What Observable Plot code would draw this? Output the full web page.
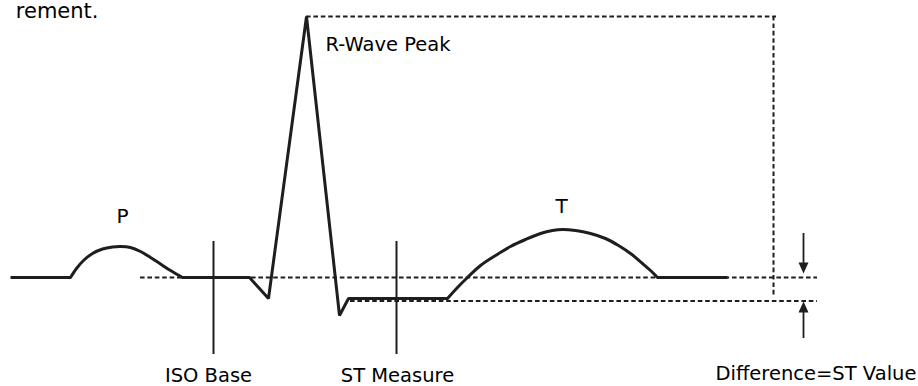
<!DOCTYPE html>
<html>
<head>
<meta charset="utf-8">
<script src="https://cdn.jsdelivr.net/npm/d3@7"></script>
<script src="https://cdn.jsdelivr.net/npm/@observablehq/plot@0.6"></script>
<style>
  html, body { margin: 0; padding: 0; background: #ffffff; }
  #chart svg { display: block; }
</style>
</head>
<body>
<div id="chart"></div>
<script>
// ---- Data (x = time units, y = amplitude units, baseline = 0) ----
// Straight segments of the trace
const leadX = [10, 70];
const leadY = [0, 0];
// P wave
const pWaveX = [70, 76, 83, 92, 102, 112, 120, 130, 140, 150, 160, 170, 182];
const pWaveY = [0, 9, 17, 24, 28.5, 30.5, 31, 30, 26, 20, 13.5, 7, 0];
// PR segment, QRS complex and ST segment
const qrsX = [182, 249, 268, 306, 339, 348, 447];
const qrsY = [0, 0, -21, 261, -38, -21, -21];
// T wave
const tWaveX = [447, 457, 467, 480, 495, 510, 525, 540, 552, 562, 575, 590, 605, 618, 630, 642, 650, 657];
const tWaveY = [-21, -10, 0, 12, 22, 31, 38, 44, 47, 48, 47, 44, 39, 32, 24, 14, 7, 0];
// Trailing baseline
const tailX = [657, 727];
const tailY = [0, 0];

// Measurement markers
const markerX = [213, 396];
const markerLabels = ["ISO Base", "ST Measure"];
const markerLabelX = [208, 397];
const markerLabelY = -104;
const markerTop = 36;
const markerBottom = -77;

// Reference (dashed) levels
const isoLevel = 0;
const stLevel = -23.5;
const peakLevel = 261;
const refStartX = [140, 350, 306];
const refEndX = [817, 817, 776];
const refLevels = [isoLevel, stLevel, peakLevel];
const peakDropX = 773;
const peakDropEnd = -19;

// Difference arrows
const arrowX = 803;
const downArrow = [44, 4];   // from, tip
const upArrow = [-61, -24];  // from, tip

// Text labels
const waveLabels = ["P", "T"];
const waveLabelX = [122, 561];
const waveLabelY = [55, 65];
const peakLabel = "R-Wave Peak";
const peakLabelPos = [325, 227];
const diffLabel = "Difference=ST Value";
const diffLabelPos = [715, -102];
const clippedLabel = "rement.";
const clippedLabelPos = [98, 260];

// ---- Build tables ----
const seg = (xs, ys, name) => xs.map((x, i) => ({x, y: ys[i], seg: name}));
const straight = [...seg(leadX, leadY, "lead"), ...seg(qrsX, qrsY, "qrs"), ...seg(tailX, tailY, "tail")];
const curved = [...seg(pWaveX, pWaveY, "P"), ...seg(tWaveX, tWaveY, "T")];
const refs = refLevels.map((y, i) => ({y, x1: refStartX[i], x2: refEndX[i]}));
const markers = markerX.map((x, i) => ({x, label: markerLabels[i], lx: markerLabelX[i]}));
const waves = waveLabels.map((t, i) => ({t, x: waveLabelX[i], y: waveLabelY[i]}));

const INK = "#1e1e1e";
const dash = "4.6,2.8";
const triUp = {draw(ctx) { ctx.moveTo(0, 0); ctx.lineTo(-5, 11); ctx.lineTo(5, 11); ctx.closePath(); }};
const triDown = {draw(ctx) { ctx.moveTo(0, 0); ctx.lineTo(-5, -11); ctx.lineTo(5, -11); ctx.closePath(); }};
const font = "DejaVu Sans, Verdana, sans-serif";
const fs = 19.5;

const chart = Plot.plot({
  width: 918,
  height: 386,
  margin: 0,
  x: {domain: [0, 918], axis: null},
  y: {domain: [-109, 277], axis: null},
  style: {background: "#ffffff", fontFamily: font, fontSize: fs + "px", color: INK},
  marks: [
    // dashed reference lines
    Plot.ruleY(refs, {y: "y", x1: "x1", x2: "x2", stroke: INK, strokeWidth: 2, strokeDasharray: dash}),
    Plot.ruleX([peakDropX], {y1: peakLevel, y2: peakDropEnd, stroke: INK, strokeWidth: 2, strokeDasharray: dash}),
    // marker verticals
    Plot.ruleX(markers, {x: "x", y1: markerTop, y2: markerBottom, stroke: INK, strokeWidth: 2}),
    // ECG trace
    Plot.line(straight, {x: "x", y: "y", z: "seg", stroke: INK, strokeWidth: 3, strokeLinejoin: "miter", strokeLinecap: "butt"}),
    Plot.line(curved, {x: "x", y: "y", z: "seg", curve: "catmull-rom", stroke: INK, strokeWidth: 3, strokeLinecap: "round"}),
    // arrows
    Plot.ruleX([arrowX], {y1: downArrow[0], y2: downArrow[1] + 8, stroke: INK, strokeWidth: 1.8}),
    Plot.ruleX([arrowX], {y1: upArrow[0], y2: upArrow[1] - 8, stroke: INK, strokeWidth: 1.8}),
    Plot.dot([{x: arrowX, y: downArrow[1]}], {x: "x", y: "y", symbol: triDown, r: 5, fill: INK, stroke: "none"}),
    Plot.dot([{x: arrowX, y: upArrow[1]}], {x: "x", y: "y", symbol: triUp, r: 5, fill: INK, stroke: "none"}),
    // labels
    Plot.text(waves, {x: "x", y: "y", text: "t", textAnchor: "middle", lineAnchor: "bottom", fill: "#000", fontSize: 20}),
    Plot.text([peakLabel], {x: peakLabelPos[0], y: peakLabelPos[1], text: d => d, textAnchor: "start", lineAnchor: "bottom", fill: "#000"}),
    Plot.text(markers, {x: "lx", y: markerLabelY, text: "label", textAnchor: "middle", lineAnchor: "bottom", fill: "#000"}),
    Plot.text([diffLabel], {x: diffLabelPos[0], y: diffLabelPos[1], text: d => d, textAnchor: "start", lineAnchor: "bottom", fill: "#000"}),
    Plot.text([clippedLabel], {x: clippedLabelPos[0], y: clippedLabelPos[1], text: d => d, textAnchor: "end", lineAnchor: "bottom", fill: "#000", fontSize: 21})
  ]
});
document.getElementById("chart").appendChild(chart);
</script>
</body>
</html>
